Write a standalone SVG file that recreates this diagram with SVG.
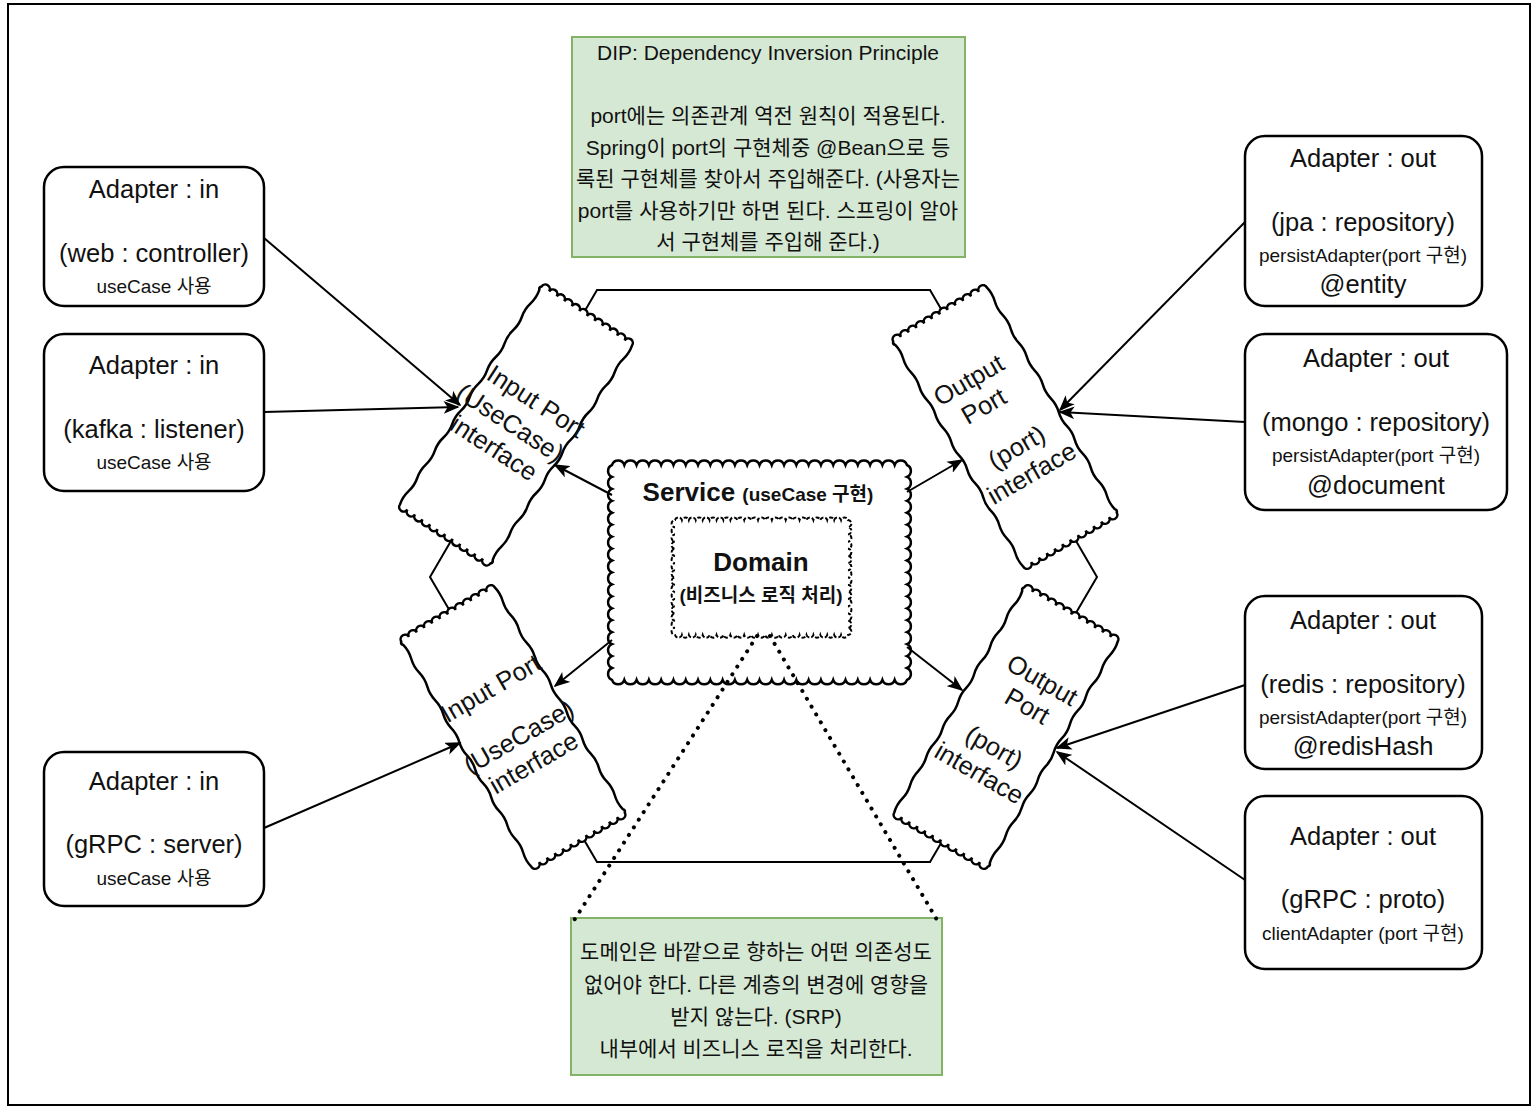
<svg xmlns="http://www.w3.org/2000/svg" width="1536" height="1112" viewBox="0 0 1536 1112">
<style>
text{font-family:"Helvetica Neue","Liberation Sans","Noto Sans CJK KR",sans-serif;fill:#111;text-anchor:middle}
.box{fill:#fff;stroke:#000;stroke-width:2.5}
.note{fill:#d5e8d4;stroke:#82b366;stroke-width:2}
.l{font-size:25.5px}.s{font-size:19px}.n{font-size:21px}
.c{stroke:#000;stroke-width:2;fill:none;marker-end:url(#ah)}
</style>
<defs>
<marker id="ah" viewBox="0 0 20 16" refX="18" refY="8" markerWidth="16" markerHeight="13" markerUnits="userSpaceOnUse" orient="auto">
<path d="M0,0 L20,8 L0,16 L5,8 Z" fill="#000"/>
</marker>
<path id="tape" d="M-54,-130 a4.5,4.5 0 0 1 9,0 a4.5,4.5 0 0 1 9,0 a4.5,4.5 0 0 1 9,0 a4.5,4.5 0 0 1 9,0 a4.5,4.5 0 0 1 9,0 a4.5,4.5 0 0 1 9,0 a4.5,4.5 0 0 1 9,0 a4.5,4.5 0 0 1 9,0 a4.5,4.5 0 0 1 9,0 a4.5,4.5 0 0 1 9,0 a4.5,4.5 0 0 1 9,0 a4.5,4.5 0 0 1 9,0 q2,8 0,16 q-2,8 0,16 q2,8 0,16 q-2,8 0,16 q2,8 0,16 q-2,8 0,16 q2,8 0,16 q-2,8 0,16 q2,8 0,16 q-2,8 0,16 q2,8 0,16 q-2,8 0,16 q2,8 0,16 q-2,8 0,16 q2,8 0,16 q-2,8 0,16 q2,2 0,4 a4.5,4.5 0 0 1 -9,0 a4.5,4.5 0 0 1 -9,0 a4.5,4.5 0 0 1 -9,0 a4.5,4.5 0 0 1 -9,0 a4.5,4.5 0 0 1 -9,0 a4.5,4.5 0 0 1 -9,0 a4.5,4.5 0 0 1 -9,0 a4.5,4.5 0 0 1 -9,0 a4.5,4.5 0 0 1 -9,0 a4.5,4.5 0 0 1 -9,0 a4.5,4.5 0 0 1 -9,0 a4.5,4.5 0 0 1 -9,0 q-2,-8 0,-16 q2,-8 0,-16 q-2,-8 0,-16 q2,-8 0,-16 q-2,-8 0,-16 q2,-8 0,-16 q-2,-8 0,-16 q2,-8 0,-16 q-2,-8 0,-16 q2,-8 0,-16 q-2,-8 0,-16 q2,-8 0,-16 q-2,-8 0,-16 q2,-8 0,-16 q-2,-8 0,-16 q2,-8 0,-16 q-2,-2 0,-4 Z" fill="#fff" stroke="#000" stroke-width="2.5"/>
</defs>
<rect width="1536" height="1112" fill="#fff"/>
<rect x="8" y="4" width="1522" height="1101" fill="none" stroke="#000" stroke-width="2"/>

<g id="hexagon"><path d="M597,290 L930,290 L1097,577 L930,862 L597,862 L430,577 Z" fill="none" stroke="#000" stroke-width="2"/></g>

<g id="note-dip">
<rect class="note" x="572" y="37" width="393" height="220"/>
<text class="n" x="768" y="60">DIP: Dependency Inversion Principle</text>
<text class="n" x="768" y="123">port에는 의존관계 역전 원칙이 적용된다.</text>
<text class="n" x="768" y="155">Spring이 port의 구현체중 @Bean으로 등</text>
<text class="n" x="768" y="186">록된 구현체를 찾아서 주입해준다. (사용자는</text>
<text class="n" x="768" y="218">port를 사용하기만 하면 된다. 스프링이 알아</text>
<text class="n" x="768" y="249">서 구현체를 주입해 준다.)</text>
</g>

<g id="note-domain">
<rect class="note" x="571" y="918" width="371" height="157"/>
<text class="n" x="756" y="959">도메인은 바깥으로 향하는 어떤 의존성도</text>
<text class="n" x="756" y="992">없어야 한다. 다른 계층의 변경에 영향을</text>
<text class="n" x="756" y="1024">받지 않는다. (SRP)</text>
<text class="n" x="756" y="1056">내부에서 비즈니스 로직을 처리한다.</text>
</g>

<g id="in-web"><rect class="box" x="44" y="167" width="220" height="139" rx="20"/>
<text class="l" x="154" y="198">Adapter : in</text><text class="l" x="154" y="262">(web : controller)</text><text class="s" x="154" y="293">useCase 사용</text></g>
<g id="in-kafka"><rect class="box" x="44" y="334" width="220" height="157" rx="20"/>
<text class="l" x="154" y="374">Adapter : in</text><text class="l" x="154" y="438">(kafka : listener)</text><text class="s" x="154" y="469">useCase 사용</text></g>
<g id="in-grpc"><rect class="box" x="44" y="752" width="220" height="154" rx="20"/>
<text class="l" x="154" y="790">Adapter : in</text><text class="l" x="154" y="853">(gRPC : server)</text><text class="s" x="154" y="885">useCase 사용</text></g>

<g id="out-jpa"><rect class="box" x="1245" y="136" width="237" height="170" rx="20"/>
<text class="l" x="1363" y="167">Adapter : out</text><text class="l" x="1363" y="231">(jpa : repository)</text><text class="s" x="1363" y="262">persistAdapter(port 구현)</text><text class="l" x="1363" y="293">@entity</text></g>
<g id="out-mongo"><rect class="box" x="1245" y="334" width="262" height="176" rx="20"/>
<text class="l" x="1376" y="367">Adapter : out</text><text class="l" x="1376" y="431">(mongo : repository)</text><text class="s" x="1376" y="462">persistAdapter(port 구현)</text><text class="l" x="1376" y="494">@document</text></g>
<g id="out-redis"><rect class="box" x="1245" y="596" width="237" height="173" rx="20"/>
<text class="l" x="1363" y="629">Adapter : out</text><text class="l" x="1363" y="693">(redis : repository)</text><text class="s" x="1363" y="724">persistAdapter(port 구현)</text><text class="l" x="1363" y="755">@redisHash</text></g>
<g id="out-grpc"><rect class="box" x="1245" y="796" width="237" height="173" rx="20"/>
<text class="l" x="1363" y="845">Adapter : out</text><text class="l" x="1363" y="908">(gRPC : proto)</text><text class="s" x="1363" y="940">clientAdapter (port 구현)</text></g>

<g id="input-port-1" transform="translate(516,425) rotate(33)"><use href="#tape"/>
<text class="l" x="4" y="-22">Input Port</text><text class="l" x="-6" y="10">(UseCase)</text><text class="l" x="-6" y="40">interface</text></g>
<g id="input-port-2" transform="translate(513,727) rotate(-30)"><use href="#tape"/>
<text class="l" x="0" y="-36">Input Port</text><text class="l" x="0" y="20">(UseCase)</text><text class="l" x="0" y="50">interface</text></g>
<g id="output-port-1" transform="translate(1005,427) rotate(-30)"><use href="#tape"/>
<text class="l" x="-8" y="-50">Output</text><text class="l" x="-8" y="-20">Port</text><text class="l" x="0" y="32">(port)</text><text class="l" x="0" y="62">interface</text></g>
<g id="output-port-2" transform="translate(1006,727) rotate(30)"><use href="#tape"/>
<text class="l" x="8" y="-50">Output</text><text class="l" x="8" y="-20">Port</text><text class="l" x="0" y="32">(port)</text><text class="l" x="0" y="62">interface</text></g>

<g id="service">
<path fill="#fff" stroke="#000" stroke-width="2.5" d="M612,465 a6.5,6.5 0 0 1 12.29,0 a6.5,6.5 0 0 1 12.29,0 a6.5,6.5 0 0 1 12.29,0 a6.5,6.5 0 0 1 12.29,0 a6.5,6.5 0 0 1 12.29,0 a6.5,6.5 0 0 1 12.29,0 a6.5,6.5 0 0 1 12.29,0 a6.5,6.5 0 0 1 12.29,0 a6.5,6.5 0 0 1 12.29,0 a6.5,6.5 0 0 1 12.29,0 a6.5,6.5 0 0 1 12.29,0 a6.5,6.5 0 0 1 12.29,0 a6.5,6.5 0 0 1 12.29,0 a6.5,6.5 0 0 1 12.29,0 a6.5,6.5 0 0 1 12.29,0 a6.5,6.5 0 0 1 12.29,0 a6.5,6.5 0 0 1 12.29,0 a6.5,6.5 0 0 1 12.29,0 a6.5,6.5 0 0 1 12.29,0 a6.5,6.5 0 0 1 12.29,0 a6.5,6.5 0 0 1 12.29,0 a6.5,6.5 0 0 1 12.29,0 a6.5,6.5 0 0 1 12.29,0 a6.5,6.5 0 0 1 12.29,0
a6.5,6.5 0 0 1 0,11.94 a6.5,6.5 0 0 1 0,11.94 a6.5,6.5 0 0 1 0,11.94 a6.5,6.5 0 0 1 0,11.94 a6.5,6.5 0 0 1 0,11.94 a6.5,6.5 0 0 1 0,11.94 a6.5,6.5 0 0 1 0,11.94 a6.5,6.5 0 0 1 0,11.94 a6.5,6.5 0 0 1 0,11.94 a6.5,6.5 0 0 1 0,11.94 a6.5,6.5 0 0 1 0,11.94 a6.5,6.5 0 0 1 0,11.94 a6.5,6.5 0 0 1 0,11.94 a6.5,6.5 0 0 1 0,11.94 a6.5,6.5 0 0 1 0,11.94 a6.5,6.5 0 0 1 0,11.94 a6.5,6.5 0 0 1 0,11.94 a6.5,6.5 0 0 1 0,11.94
a6.5,6.5 0 0 1 -12.29,0 a6.5,6.5 0 0 1 -12.29,0 a6.5,6.5 0 0 1 -12.29,0 a6.5,6.5 0 0 1 -12.29,0 a6.5,6.5 0 0 1 -12.29,0 a6.5,6.5 0 0 1 -12.29,0 a6.5,6.5 0 0 1 -12.29,0 a6.5,6.5 0 0 1 -12.29,0 a6.5,6.5 0 0 1 -12.29,0 a6.5,6.5 0 0 1 -12.29,0 a6.5,6.5 0 0 1 -12.29,0 a6.5,6.5 0 0 1 -12.29,0 a6.5,6.5 0 0 1 -12.29,0 a6.5,6.5 0 0 1 -12.29,0 a6.5,6.5 0 0 1 -12.29,0 a6.5,6.5 0 0 1 -12.29,0 a6.5,6.5 0 0 1 -12.29,0 a6.5,6.5 0 0 1 -12.29,0 a6.5,6.5 0 0 1 -12.29,0 a6.5,6.5 0 0 1 -12.29,0 a6.5,6.5 0 0 1 -12.29,0 a6.5,6.5 0 0 1 -12.29,0 a6.5,6.5 0 0 1 -12.29,0 a6.5,6.5 0 0 1 -12.29,0
a6.5,6.5 0 0 1 0,-11.94 a6.5,6.5 0 0 1 0,-11.94 a6.5,6.5 0 0 1 0,-11.94 a6.5,6.5 0 0 1 0,-11.94 a6.5,6.5 0 0 1 0,-11.94 a6.5,6.5 0 0 1 0,-11.94 a6.5,6.5 0 0 1 0,-11.94 a6.5,6.5 0 0 1 0,-11.94 a6.5,6.5 0 0 1 0,-11.94 a6.5,6.5 0 0 1 0,-11.94 a6.5,6.5 0 0 1 0,-11.94 a6.5,6.5 0 0 1 0,-11.94 a6.5,6.5 0 0 1 0,-11.94 a6.5,6.5 0 0 1 0,-11.94 a6.5,6.5 0 0 1 0,-11.94 a6.5,6.5 0 0 1 0,-11.94 a6.5,6.5 0 0 1 0,-11.94 a6.5,6.5 0 0 1 0,-11.94 Z"/>
<text x="758" y="501" font-size="26" font-weight="bold">Service <tspan font-size="19">(useCase 구현)</tspan></text>
</g>

<g id="domain">
<path fill="#fff" stroke="#000" stroke-width="2" stroke-dasharray="4 2" d="M675,520 a3.6,3.6 0 0 1 6.92,0 a3.6,3.6 0 0 1 6.92,0 a3.6,3.6 0 0 1 6.92,0 a3.6,3.6 0 0 1 6.92,0 a3.6,3.6 0 0 1 6.92,0 a3.6,3.6 0 0 1 6.92,0 a3.6,3.6 0 0 1 6.92,0 a3.6,3.6 0 0 1 6.92,0 a3.6,3.6 0 0 1 6.92,0 a3.6,3.6 0 0 1 6.92,0 a3.6,3.6 0 0 1 6.92,0 a3.6,3.6 0 0 1 6.92,0 a3.6,3.6 0 0 1 6.92,0 a3.6,3.6 0 0 1 6.92,0 a3.6,3.6 0 0 1 6.92,0 a3.6,3.6 0 0 1 6.92,0 a3.6,3.6 0 0 1 6.92,0 a3.6,3.6 0 0 1 6.92,0 a3.6,3.6 0 0 1 6.92,0 a3.6,3.6 0 0 1 6.92,0 a3.6,3.6 0 0 1 6.92,0 a3.6,3.6 0 0 1 6.92,0 a3.6,3.6 0 0 1 6.92,0 a3.6,3.6 0 0 1 6.92,0 a3.6,3.6 0 0 1 6.92,0
a3.6,3.6 0 0 1 0,7.19 a3.6,3.6 0 0 1 0,7.19 a3.6,3.6 0 0 1 0,7.19 a3.6,3.6 0 0 1 0,7.19 a3.6,3.6 0 0 1 0,7.19 a3.6,3.6 0 0 1 0,7.19 a3.6,3.6 0 0 1 0,7.19 a3.6,3.6 0 0 1 0,7.19 a3.6,3.6 0 0 1 0,7.19 a3.6,3.6 0 0 1 0,7.19 a3.6,3.6 0 0 1 0,7.19 a3.6,3.6 0 0 1 0,7.19 a3.6,3.6 0 0 1 0,7.19 a3.6,3.6 0 0 1 0,7.19 a3.6,3.6 0 0 1 0,7.19 a3.6,3.6 0 0 1 0,7.19
a3.6,3.6 0 0 1 -6.92,0 a3.6,3.6 0 0 1 -6.92,0 a3.6,3.6 0 0 1 -6.92,0 a3.6,3.6 0 0 1 -6.92,0 a3.6,3.6 0 0 1 -6.92,0 a3.6,3.6 0 0 1 -6.92,0 a3.6,3.6 0 0 1 -6.92,0 a3.6,3.6 0 0 1 -6.92,0 a3.6,3.6 0 0 1 -6.92,0 a3.6,3.6 0 0 1 -6.92,0 a3.6,3.6 0 0 1 -6.92,0 a3.6,3.6 0 0 1 -6.92,0 a3.6,3.6 0 0 1 -6.92,0 a3.6,3.6 0 0 1 -6.92,0 a3.6,3.6 0 0 1 -6.92,0 a3.6,3.6 0 0 1 -6.92,0 a3.6,3.6 0 0 1 -6.92,0 a3.6,3.6 0 0 1 -6.92,0 a3.6,3.6 0 0 1 -6.92,0 a3.6,3.6 0 0 1 -6.92,0 a3.6,3.6 0 0 1 -6.92,0 a3.6,3.6 0 0 1 -6.92,0 a3.6,3.6 0 0 1 -6.92,0 a3.6,3.6 0 0 1 -6.92,0 a3.6,3.6 0 0 1 -6.92,0
a3.6,3.6 0 0 1 0,-7.19 a3.6,3.6 0 0 1 0,-7.19 a3.6,3.6 0 0 1 0,-7.19 a3.6,3.6 0 0 1 0,-7.19 a3.6,3.6 0 0 1 0,-7.19 a3.6,3.6 0 0 1 0,-7.19 a3.6,3.6 0 0 1 0,-7.19 a3.6,3.6 0 0 1 0,-7.19 a3.6,3.6 0 0 1 0,-7.19 a3.6,3.6 0 0 1 0,-7.19 a3.6,3.6 0 0 1 0,-7.19 a3.6,3.6 0 0 1 0,-7.19 a3.6,3.6 0 0 1 0,-7.19 a3.6,3.6 0 0 1 0,-7.19 a3.6,3.6 0 0 1 0,-7.19 a3.6,3.6 0 0 1 0,-7.19 Z"/>
<text x="761" y="571" font-size="26" font-weight="bold">Domain</text>
<text x="761" y="602" font-size="19" font-weight="bold">(비즈니스 로직 처리)</text>
</g>

<g id="connectors">
<path class="c" d="M264,238 L460,405"/>
<path class="c" d="M264,412 L458,407"/>
<path class="c" d="M264,828 L460,743"/>
<path class="c" d="M612,495 L555,465"/>
<path class="c" d="M612,640 L555,686"/>
<path class="c" d="M907,492 L962,460"/>
<path class="c" d="M907,647 L962,690"/>
<path class="c" d="M1245,222 L1060,410"/>
<path class="c" d="M1245,422 L1060,412"/>
<path class="c" d="M1245,685 L1057,748"/>
<path class="c" d="M1245,880 L1057,752"/>
<path d="M757,636 L571,925 M770,636 L940,925" stroke="#000" stroke-width="4" stroke-dasharray="0.1 9" stroke-linecap="round" fill="none"/>
</g>
</svg>
